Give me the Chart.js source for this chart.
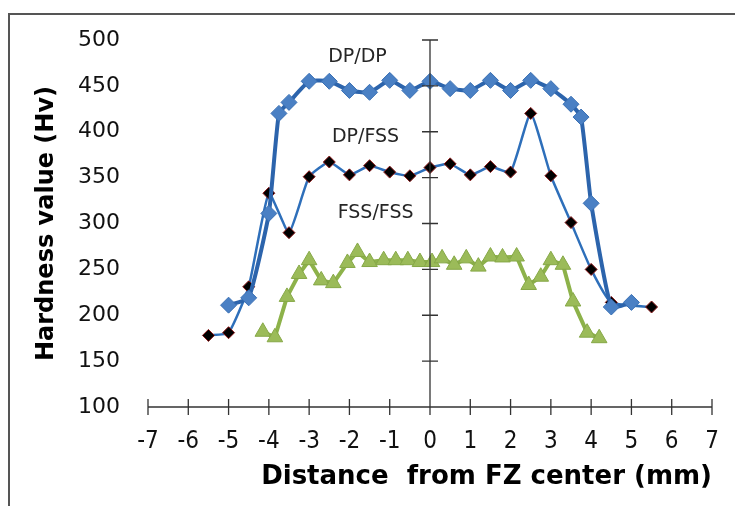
<!DOCTYPE html>
<html>
<head>
<meta charset="utf-8">
<script src="https://cdn.jsdelivr.net/npm/chart.js@4"></script>
<style>
  html, body { margin: 0; padding: 0; background: #fff; }
  #wrap { width: 735px; height: 506px; position: relative; }
</style>
</head>
<body>
<div id="wrap"><canvas id="hardnessChart" width="735" height="506"></canvas></div>
<script>
// Data
const xTicks = [-7, -6, -5, -4, -3, -2, -1, 0, 1, 2, 3, 4, 5, 6, 7];
const yTicks = [100, 150, 200, 250, 300, 350, 400, 450, 500];

const dpDpX = [-5, -4.5, -4, -3.75, -3.5, -3, -2.5, -2, -1.5, -1, -0.5, 0, 0.5, 1, 1.5, 2, 2.5, 3, 3.5, 3.75, 4, 4.5, 5];
const dpDpY = [211, 219, 311, 420, 432, 455, 455, 445, 443, 456, 445, 455, 447, 445, 456, 445, 456, 447, 430, 416, 322, 209, 214];

const dpFssX = [-5.5, -5, -4.5, -4, -3.5, -3, -2.5, -2, -1.5, -1, -0.5, 0, 0.5, 1, 1.5, 2, 2.5, 3, 3.5, 4, 4.5, 5.5];
const dpFssY = [178, 181, 231, 333, 290, 351, 367, 353, 363, 356, 352, 361, 365, 353, 362, 356, 420, 352, 301, 250, 214, 209];

const fssX = [-4.15, -3.85, -3.55, -3.25, -3.0, -2.7, -2.4, -2.05, -1.8, -1.5, -1.15, -0.85, -0.55, -0.25, 0.05, 0.3, 0.6, 0.9, 1.2, 1.5, 1.8, 2.15, 2.45, 2.75, 3.0, 3.3, 3.55, 3.9, 4.2];
const fssY = [182, 176, 220, 245, 260, 238, 235, 257, 269, 258, 260, 260, 260, 258, 258, 262, 255, 262, 253, 264, 263, 264, 233, 242, 260, 255, 215, 181, 175];

const seriesLabels = [
    { text: 'DP/DP', x: -1.8, y: 481 },
    { text: 'DP/FSS', x: -1.6, y: 394 },
    { text: 'FSS/FSS', x: -1.35, y: 311 }
];

const toPoints = (xs, ys) => xs.map((x, i) => ({ x: x, y: ys[i] }));

// axes, frame and series names drawn by hand
const decorPlugin = {
    id: 'decor',
    beforeDraw(chart) {
        const c = chart.ctx;
        c.save();
        c.strokeStyle = '#555';
        c.lineWidth = 2;
        c.beginPath();
        c.moveTo(9, 506);
        c.lineTo(9, 14);
        c.lineTo(735, 14);
        c.stroke();
        c.restore();
    },
    afterDatasetsDraw(chart) {
        const c = chart.ctx;
        const xs = chart.scales.x;
        const ys = chart.scales.y;
        const x0 = xs.getPixelForValue(0);
        const yb = ys.getPixelForValue(100);
        c.save();
        c.strokeStyle = '#333';
        c.lineWidth = 1.3;
        c.beginPath();
        // x axis
        c.moveTo(xs.getPixelForValue(-7), yb);
        c.lineTo(xs.getPixelForValue(7), yb);
        xTicks.forEach(t => {
            const px = xs.getPixelForValue(t);
            c.moveTo(px, yb - 8);
            c.lineTo(px, yb + 8);
        });
        // y axis at x = 0
        c.moveTo(x0, ys.getPixelForValue(500));
        c.lineTo(x0, yb);
        yTicks.forEach(t => {
            const py = ys.getPixelForValue(t);
            c.moveTo(x0 - 8, py);
            c.lineTo(x0 + 8, py);
        });
        c.stroke();

        c.fillStyle = '#262626';
        c.font = '19px "DejaVu Sans"';
        c.textAlign = 'center';
        c.textBaseline = 'middle';
        seriesLabels.forEach(l => {
            c.fillText(l.text, xs.getPixelForValue(l.x), ys.getPixelForValue(l.y));
        });
        c.restore();
    }
};

const ctx = document.getElementById('hardnessChart').getContext('2d');
const hardnessChart = new Chart(ctx, {
    type: 'scatter',
    data: {
        datasets: [{
            label: 'DP/DP',
            data: toPoints(dpDpX, dpDpY),
            showLine: true,
            borderColor: '#2c64ac',
            borderWidth: 4,
            pointStyle: 'rectRot',
            pointRadius: 8,
            pointBackgroundColor: '#4a80c4',
            pointBorderColor: '#3a70b4',
            pointBorderWidth: 1,
            tension: 0.15
        }, {
            label: 'DP/FSS',
            data: toPoints(dpFssX, dpFssY),
            showLine: true,
            borderColor: '#2e6fba',
            borderWidth: 2.5,
            pointStyle: 'rectRot',
            pointRadius: 6,
            pointBackgroundColor: '#000',
            pointBorderColor: '#8b1a1a',
            pointBorderWidth: 1,
            tension: 0.15
        }, {
            label: 'FSS/FSS',
            data: toPoints(fssX, fssY),
            showLine: true,
            borderColor: '#8db24a',
            borderWidth: 4,
            pointStyle: 'triangle',
            pointRadius: 9,
            pointBackgroundColor: '#9bbb59',
            pointBorderColor: '#86a847',
            pointBorderWidth: 1,
            tension: 0
        }]
    },
    options: {
        responsive: false,
        animation: false,
        layout: { padding: { top: 40, right: 23, left: 0, bottom: 0 } },
        plugins: {
            legend: { display: false },
            tooltip: { enabled: false }
        },
        scales: {
            x: {
                type: 'linear',
                min: -7,
                max: 7,
                afterBuildTicks: scale => { scale.ticks = xTicks.map(v => ({ value: v })); },
                afterFit: scale => { scale.height = 99; },
                grid: { display: false },
                border: { display: false },
                ticks: {
                    color: '#111',
                    font: { family: '"Liberation Sans Narrow", "DejaVu Sans Condensed", "Liberation Sans"', size: 24 },
                    padding: 12,
                    maxRotation: 0
                },
                title: {
                    display: true,
                    text: 'Distance  from FZ center (mm)',
                    align: 'end',
                    color: '#000',
                    font: { family: '"DejaVu Sans"', size: 26, weight: 'bold' },
                    padding: { top: 0, bottom: 13 }
                }
            },
            y: {
                type: 'linear',
                min: 100,
                max: 500,
                afterBuildTicks: scale => { scale.ticks = yTicks.map(v => ({ value: v })); },
                afterFit: scale => { scale.width = 148; },
                grid: { display: false },
                border: { display: false },
                ticks: { color: '#111', font: { family: '"DejaVu Sans"', size: 22 }, padding: 20 },
                title: {
                    display: true,
                    text: 'Hardness value (Hv)',
                    color: '#000',
                    font: { family: '"DejaVu Sans"', size: 24, weight: 'bold' },
                    padding: { top: 32, bottom: 0 }
                }
            }
        }
    },
    plugins: [decorPlugin]
});
</script>
</body>
</html>
